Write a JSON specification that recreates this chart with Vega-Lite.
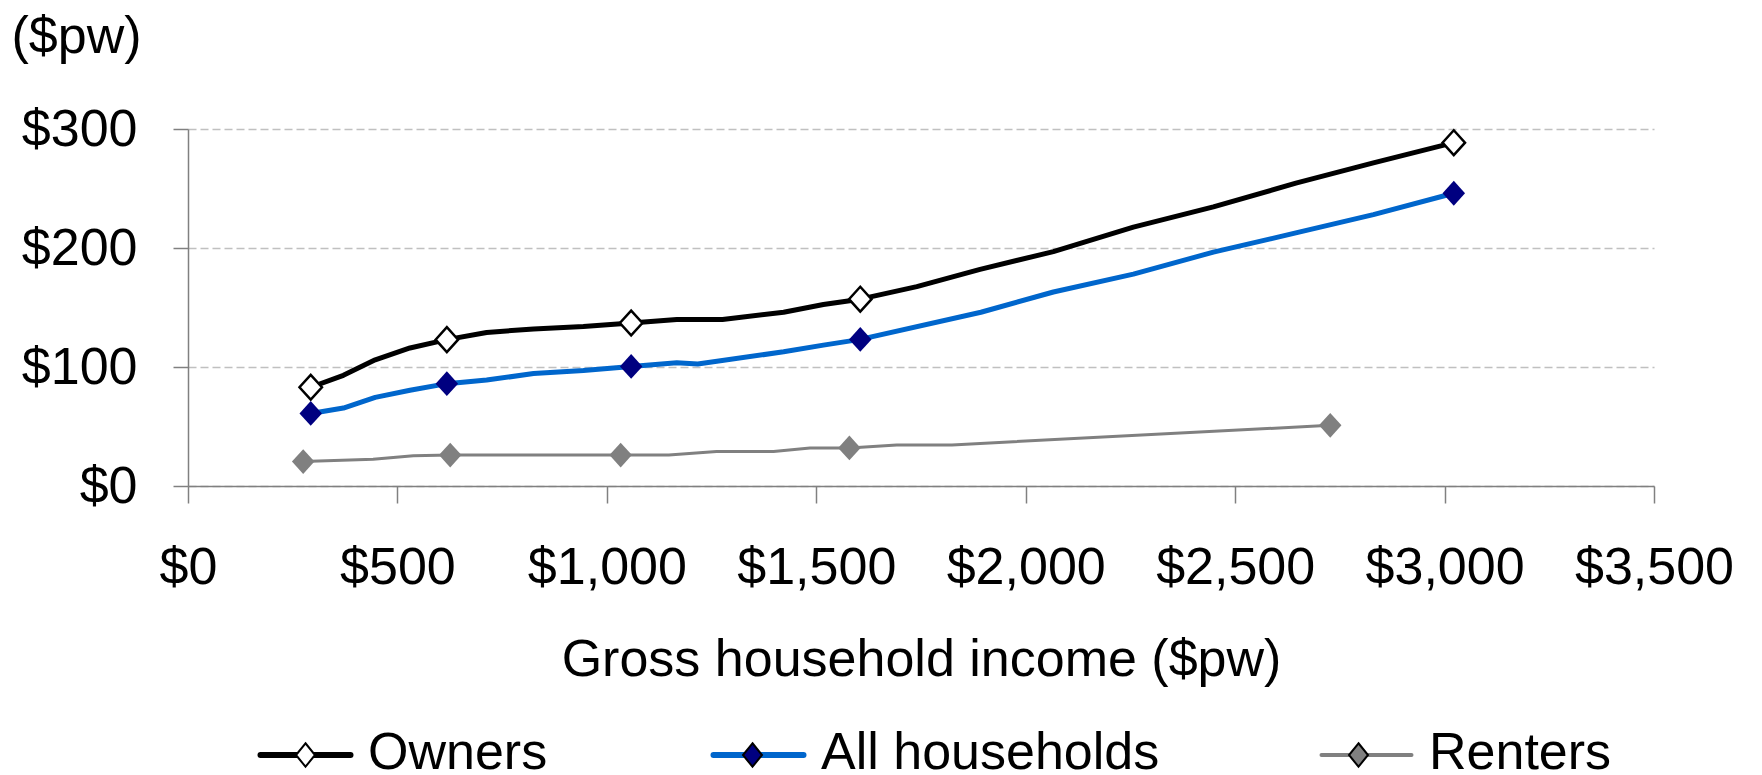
{
  "$schema": "https://vega.github.io/schema/vega-lite/v6.json",
  "width": 1466,
  "height": 357,
  "autosize": {"type": "none"},
  "padding": {"left": 188, "top": 129, "right": 108, "bottom": 289},
  "config": {"view": {"stroke": null}, "font": "Liberation Sans"},
  "data": {
    "values": [
      {"series": "Owners", "income": 293, "cost": 83, "marker": true},
      {"series": "Owners", "income": 371, "cost": 93, "marker": false},
      {"series": "Owners", "income": 447, "cost": 106, "marker": false},
      {"series": "Owners", "income": 530, "cost": 116, "marker": false},
      {"series": "Owners", "income": 618, "cost": 123, "marker": true},
      {"series": "Owners", "income": 713, "cost": 129, "marker": false},
      {"series": "Owners", "income": 825, "cost": 132, "marker": false},
      {"series": "Owners", "income": 944, "cost": 134, "marker": false},
      {"series": "Owners", "income": 1058, "cost": 137, "marker": true},
      {"series": "Owners", "income": 1167, "cost": 140, "marker": false},
      {"series": "Owners", "income": 1276, "cost": 140, "marker": false},
      {"series": "Owners", "income": 1422, "cost": 146, "marker": false},
      {"series": "Owners", "income": 1517, "cost": 152.5, "marker": false},
      {"series": "Owners", "income": 1605, "cost": 157, "marker": true},
      {"series": "Owners", "income": 1740, "cost": 167.5, "marker": false},
      {"series": "Owners", "income": 1891, "cost": 182, "marker": false},
      {"series": "Owners", "income": 2066, "cost": 197, "marker": false},
      {"series": "Owners", "income": 2257, "cost": 217.5, "marker": false},
      {"series": "Owners", "income": 2448, "cost": 234.5, "marker": false},
      {"series": "Owners", "income": 2645, "cost": 254.5, "marker": false},
      {"series": "Owners", "income": 2830, "cost": 271.5, "marker": false},
      {"series": "Owners", "income": 3022, "cost": 288.5, "marker": true},
      {"series": "All households", "income": 293, "cost": 61, "marker": true},
      {"series": "All households", "income": 371, "cost": 65.5, "marker": false},
      {"series": "All households", "income": 447, "cost": 74.5, "marker": false},
      {"series": "All households", "income": 530, "cost": 80.5, "marker": false},
      {"series": "All households", "income": 618, "cost": 86, "marker": true},
      {"series": "All households", "income": 713, "cost": 89, "marker": false},
      {"series": "All households", "income": 825, "cost": 94.5, "marker": false},
      {"series": "All households", "income": 944, "cost": 97, "marker": false},
      {"series": "All households", "income": 1058, "cost": 100.5, "marker": true},
      {"series": "All households", "income": 1167, "cost": 103.5, "marker": false},
      {"series": "All households", "income": 1217, "cost": 102.5, "marker": false},
      {"series": "All households", "income": 1422, "cost": 112.8, "marker": false},
      {"series": "All households", "income": 1517, "cost": 118.4, "marker": false},
      {"series": "All households", "income": 1605, "cost": 123.2, "marker": true},
      {"series": "All households", "income": 1893, "cost": 146, "marker": false},
      {"series": "All households", "income": 2066, "cost": 163, "marker": false},
      {"series": "All households", "income": 2257, "cost": 178, "marker": false},
      {"series": "All households", "income": 2448, "cost": 196.5, "marker": false},
      {"series": "All households", "income": 2655, "cost": 213.5, "marker": false},
      {"series": "All households", "income": 2830, "cost": 228, "marker": false},
      {"series": "All households", "income": 3022, "cost": 246, "marker": true},
      {"series": "Renters", "income": 275, "cost": 20.5, "marker": true},
      {"series": "Renters", "income": 442, "cost": 22.5, "marker": false},
      {"series": "Renters", "income": 538, "cost": 25.5, "marker": false},
      {"series": "Renters", "income": 626, "cost": 26, "marker": true},
      {"series": "Renters", "income": 1033, "cost": 26, "marker": true},
      {"series": "Renters", "income": 1148, "cost": 26, "marker": false},
      {"series": "Renters", "income": 1262, "cost": 29, "marker": false},
      {"series": "Renters", "income": 1398, "cost": 29, "marker": false},
      {"series": "Renters", "income": 1485, "cost": 32, "marker": false},
      {"series": "Renters", "income": 1579, "cost": 32, "marker": true},
      {"series": "Renters", "income": 1692, "cost": 34.5, "marker": false},
      {"series": "Renters", "income": 1824, "cost": 34.5, "marker": false},
      {"series": "Renters", "income": 2727, "cost": 51, "marker": true}
    ]
  },
  "encoding": {
    "x": {
      "field": "income",
      "type": "quantitative",
      "scale": {"domain": [0, 3500], "nice": false},
      "axis": {
        "values": [0, 500, 1000, 1500, 2000, 2500, 3000, 3500],
        "format": "$,.0f",
        "labelFont": "Liberation Sans",
        "labelFontSize": 52,
        "labelColor": "#000000",
        "labelBaseline": "alphabetic",
        "labelPadding": 80,
        "labelFlush": false,
        "labelOverlap": false,
        "tickSize": 17,
        "tickColor": "#808080",
        "tickWidth": 1.5,
        "domainColor": "#808080",
        "domainWidth": 1.5,
        "grid": false,
        "title": "Gross household income ($pw)",
        "titleFont": "Liberation Sans",
        "titleFontSize": 52,
        "titleFontWeight": "normal",
        "titleColor": "#000000",
        "titleX": 733,
        "titleY": 189,
        "titleBaseline": "alphabetic"
      }
    },
    "y": {
      "field": "cost",
      "type": "quantitative",
      "scale": {"domain": [0, 300], "nice": false},
      "axis": {
        "values": [0, 100, 200, 300],
        "format": "$,.0f",
        "labelFont": "Liberation Sans",
        "labelFontSize": 52,
        "labelColor": "#000000",
        "labelPadding": 36,
        "labelOverlap": false,
        "tickSize": 15,
        "tickColor": "#808080",
        "tickWidth": 1.5,
        "domainColor": "#808080",
        "domainWidth": 1.5,
        "grid": true,
        "gridColor": "#c0c0c0",
        "gridDash": [8, 4],
        "gridWidth": 1.3,
        "title": "($pw)",
        "titleFont": "Liberation Sans",
        "titleFontSize": 52,
        "titleFontWeight": "normal",
        "titleColor": "#000000",
        "titleAngle": 0,
        "titleAlign": "left",
        "titleBaseline": "alphabetic",
        "titleX": -177,
        "titleY": -77
      }
    }
  },
  "layer": [
    {
      "transform": [{"filter": "datum.series !== 'Renters'"}],
      "mark": {"type": "line", "strokeJoin": "round", "strokeCap": "round", "strokeWidth": 5},
      "encoding": {
        "stroke": {
          "field": "series",
          "type": "nominal",
          "scale": {"domain": ["Owners", "All households", "Renters"], "range": ["#000000", "#0066CC", "#808080"]},
          "legend": {
            "orient": "none",
            "legendX": 91.5,
            "legendY": 600,
            "direction": "horizontal",
            "title": null,
            "padding": 0,
            "symbolType": "stroke",
            "symbolSize": 8100,
            "symbolStrokeWidth": 6,
            "labelFont": "Liberation Sans",
            "labelFontSize": 52,
            "labelColor": "#000000",
            "labelOffset": 36.5,
            "labelLimit": 0,
            "columnPadding": 154,
            "encode": {
              "symbols": {"update": {"strokeWidth": {"signal": "datum.value === 'Renters' ? 4 : 6"}, "strokeCap": {"value": "round"}}},
              "labels": {"update": {"dy": {"value": -2}}}
            }
          }
        }
      }
    },
    {
      "transform": [{"filter": "datum.series === 'Renters'"}],
      "mark": {"type": "line", "strokeJoin": "round", "strokeCap": "round", "strokeWidth": 3},
      "encoding": {
        "stroke": {
          "field": "series",
          "type": "nominal",
          "scale": {"domain": ["Owners", "All households", "Renters"], "range": ["#000000", "#0066CC", "#808080"]},
          "legend": {
            "orient": "none",
            "legendX": 91.5,
            "legendY": 600,
            "direction": "horizontal",
            "title": null,
            "padding": 0,
            "symbolType": "stroke",
            "symbolSize": 8100,
            "symbolStrokeWidth": 6,
            "labelFont": "Liberation Sans",
            "labelFontSize": 52,
            "labelColor": "#000000",
            "labelOffset": 36.5,
            "labelLimit": 0,
            "columnPadding": 154,
            "encode": {
              "symbols": {"update": {"strokeWidth": {"signal": "datum.value === 'Renters' ? 4 : 6"}, "strokeCap": {"value": "round"}}},
              "labels": {"update": {"dy": {"value": -2}}}
            }
          }
        }
      }
    },
    {
      "transform": [{"filter": "datum.marker"}],
      "mark": {
        "type": "point",
        "shape": "M0,-1.05L0.95,0L0,1.05L-0.95,0Z",
        "filled": true,
        "size": 560,
        "opacity": 1,
        "stroke": "#000000"
      },
      "encoding": {
        "fill": {
          "field": "series",
          "type": "nominal",
          "sort": ["Owners", "All households", "Renters"],
          "scale": {"range": ["#ffffff", "#000080", "#808080"]},
          "legend": {
            "orient": "none",
            "legendX": 91.5,
            "legendY": 600,
            "direction": "horizontal",
            "title": null,
            "padding": 0,
            "symbolType": "M-1.85,0M1.85,0M0,-0.47L0.38,0L0,0.47L-0.38,0Z",
            "symbolSize": 2500,
            "symbolStrokeWidth": 2,
            "symbolOpacity": 1,
            "labelFont": "Liberation Sans",
            "labelFontSize": 52,
            "labelColor": "transparent",
            "labelOffset": 36.5,
            "labelLimit": 0,
            "columnPadding": 154,
            "encode": {
              "symbols": {"update": {
                "stroke": {"signal": "datum.value === 'Owners' ? '#000000' : datum.value === 'All households' ? '#000080' : '#808080'"},
                "strokeWidth": {"signal": "datum.value === 'Owners' ? 2 : 0"}
              }},
              "labels": {"update": {"dy": {"value": -2}}}
            }
          }
        },
        "strokeWidth": {"condition": {"test": "datum.series === 'Owners'", "value": 2.5}, "value": 0}
      }
    }
  ]
}
